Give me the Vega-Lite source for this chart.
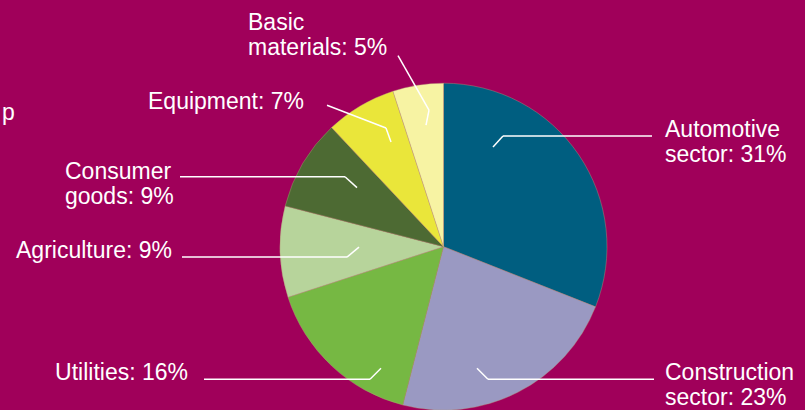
{
  "$schema": "https://vega.github.io/schema/vega-lite/v6.json",
  "width": 805,
  "height": 410,
  "autosize": {"type": "fit", "contains": "padding"},
  "padding": 0,
  "background": "#A0005A",
  "config": {"view": {"stroke": null}},
  "datasets": {
    "slices": [
      {"sector": "Automotive sector", "share": 31, "order": 1},
      {"sector": "Construction sector", "share": 23, "order": 2},
      {"sector": "Utilities", "share": 16, "order": 3},
      {"sector": "Agriculture", "share": 9, "order": 4},
      {"sector": "Consumer goods", "share": 9, "order": 5},
      {"sector": "Equipment", "share": 7, "order": 6},
      {"sector": "Basic materials", "share": 5, "order": 7}
    ],
    "labels": [
      {"label": "Automotive\nsector: 31%", "px": 665, "py": 138, "side": "left"},
      {"label": "Construction\nsector: 23%", "px": 665, "py": 383, "side": "left"},
      {"label": "Consumer\ngoods: 9%", "px": 65, "py": 180, "side": "left"},
      {"label": "Basic\nmaterials: 5%", "px": 248, "py": 30, "side": "left"},
      {"label": "p", "px": 2, "py": 121, "side": "left"},
      {"label": "Utilities: 16%", "px": 188, "py": 383, "side": "right"},
      {"label": "Agriculture: 9%", "px": 172, "py": 260, "side": "right"},
      {"label": "Equipment: 7%", "px": 304, "py": 110, "side": "right"}
    ],
    "leaders": [
      {"x1": 493, "y1": 148, "x2": 503, "y2": 137},
      {"x1": 503, "y1": 137, "x2": 652, "y2": 137},
      {"x1": 477, "y1": 371, "x2": 488, "y2": 382},
      {"x1": 488, "y1": 382, "x2": 654, "y2": 382},
      {"x1": 381, "y1": 371, "x2": 370, "y2": 382},
      {"x1": 370, "y1": 382, "x2": 204, "y2": 382},
      {"x1": 359, "y1": 249, "x2": 347, "y2": 259},
      {"x1": 347, "y1": 259, "x2": 182, "y2": 259},
      {"x1": 357, "y1": 189, "x2": 345, "y2": 178},
      {"x1": 345, "y1": 178, "x2": 180, "y2": 178},
      {"x1": 327, "y1": 106, "x2": 386, "y2": 129},
      {"x1": 386, "y1": 129, "x2": 391, "y2": 143},
      {"x1": 398, "y1": 56, "x2": 429, "y2": 111},
      {"x1": 429, "y1": 111, "x2": 426, "y2": 126}
    ]
  },
  "layer": [
    {
      "data": {"name": "slices"},
      "mark": {"type": "arc", "radius": 163.5, "stroke": "#B89A7A", "strokeWidth": 0.4},
      "encoding": {
        "theta": {"field": "share", "type": "quantitative", "stack": true},
        "order": {"field": "order", "type": "quantitative"},
        "color": {
          "field": "sector",
          "type": "nominal",
          "scale": {
            "domain": ["Automotive sector", "Construction sector", "Utilities", "Agriculture", "Consumer goods", "Equipment", "Basic materials"],
            "range": ["#005E80", "#9A99C2", "#76B843", "#B7D49B", "#4D6A33", "#EAE63A", "#F7F3A3"]
          },
          "legend": null
        },
        "x": {"datum": 443.5, "type": "quantitative", "scale": {"domain": [0, 805], "nice": false, "zero": false}, "axis": null},
        "y": {"datum": 248.5, "type": "quantitative", "scale": {"domain": [0, 410], "nice": false, "zero": false, "reverse": true}, "axis": null}
      }
    },
    {
      "data": {"name": "leaders"},
      "mark": {"type": "rule", "color": "#FFFFFF", "strokeWidth": 1.5},
      "encoding": {
        "x": {"field": "x1", "type": "quantitative"},
        "y": {"field": "y1", "type": "quantitative"},
        "x2": {"field": "x2"},
        "y2": {"field": "y2"}
      }
    },
    {
      "data": {"name": "labels"},
      "transform": [{"filter": "datum.side === 'left'"}],
      "mark": {"type": "text", "align": "left", "baseline": "alphabetic", "font": "Liberation Sans", "fontSize": 23, "lineHeight": 25, "lineBreak": "\n", "color": "#FFFFFF"},
      "encoding": {
        "x": {"field": "px", "type": "quantitative"},
        "y": {"field": "py", "type": "quantitative"},
        "text": {"field": "label"}
      }
    },
    {
      "data": {"name": "labels"},
      "transform": [{"filter": "datum.side === 'right'"}],
      "mark": {"type": "text", "align": "right", "baseline": "alphabetic", "font": "Liberation Sans", "fontSize": 23, "lineHeight": 25, "lineBreak": "\n", "color": "#FFFFFF"},
      "encoding": {
        "x": {"field": "px", "type": "quantitative"},
        "y": {"field": "py", "type": "quantitative"},
        "text": {"field": "label"}
      }
    }
  ]
}
